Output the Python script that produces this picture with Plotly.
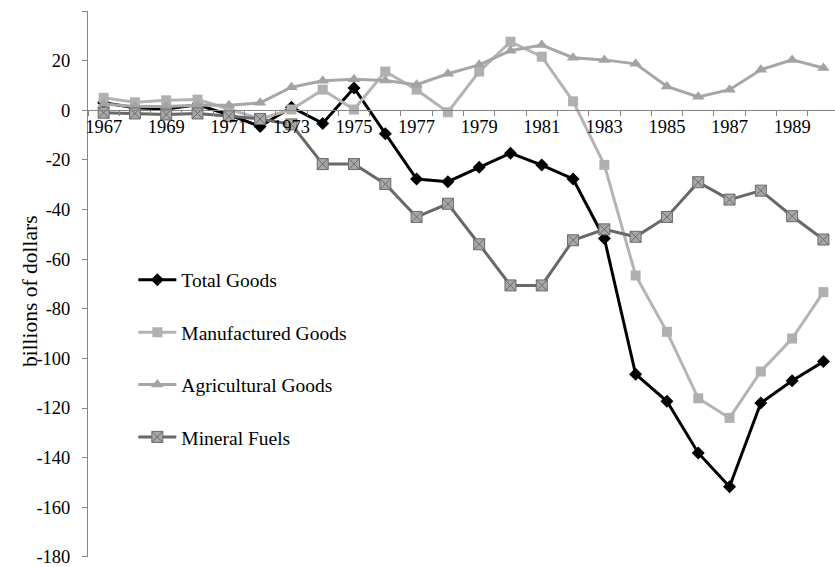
import plotly.graph_objects as go

years = [str(y) for y in range(1967, 1991)]

total_goods = [3.0, 1.0, 0.5, 2.2, -1.8, -6.5, 1.2, -5.3, 9.0, -9.5, -27.7, -28.8,
               -23.0, -17.3, -22.1, -27.7, -51.7, -106.4, -117.3, -138.1, -151.7,
               -118.0, -109.0, -101.3]
manufactured = [5.0, 3.2, 4.0, 4.3, 0.5, -3.5, 0.3, 8.3, 0.3, 15.6, 8.3, -0.8,
                15.6, 27.6, 21.6, 3.6, -22.0, -66.6, -89.3, -116.1, -124.0,
                -105.3, -92.0, -73.3]
agricultural = [2.5, 1.5, 1.5, 2.0, 2.0, 3.0, 9.3, 11.9, 12.5, 12.0, 10.3, 14.7,
                18.3, 24.0, 26.3, 21.2, 20.3, 18.7, 9.6, 5.4, 8.3, 16.3, 20.3, 17.0]
mineral = [-1.0, -1.3, -1.7, -1.3, -2.4, -3.5, -5.7, -21.7, -21.7, -29.7, -43.0,
           -37.7, -54.0, -70.6, -70.6, -52.4, -48.0, -51.0, -43.0, -29.0, -36.0,
           -32.4, -42.7, -52.1]

y_ticks = list(range(-180, 41, 20))
y_ticktext = ["" if v == 40 else str(v) for v in y_ticks]
x_ticktext = [y if int(y) % 2 == 1 else "" for y in years]

FONT = "Liberation Serif, Times New Roman, serif"

fig = go.Figure()
fig.add_trace(go.Scatter(
    x=years, y=total_goods, name="Total Goods", mode="lines+markers",
    line=dict(color="#000000", width=3),
    marker=dict(symbol="diamond", size=10, color="#000000"),
    legendgroup="a"))
fig.add_trace(go.Scatter(
    x=years, y=manufactured, name="Manufactured Goods", mode="lines+markers",
    line=dict(color="#b4b4b4", width=3),
    marker=dict(symbol="square", size=10, color="#b0b0b0"),
    legendgroup="b"))
fig.add_trace(go.Scatter(
    x=years, y=agricultural, name="Agricultural Goods", mode="lines+markers",
    line=dict(color="#a6a6a6", width=3),
    marker=dict(symbol="triangle-up", size=11, color="#a3a3a3"),
    legendgroup="c"))
fig.add_trace(go.Scatter(
    x=years, y=mineral, name="Mineral Fuels", mode="lines+markers",
    line=dict(color="#686868", width=3),
    marker=dict(symbol="square-x", size=11, color="#a8a8a8",
                line=dict(color="#6a6a6a", width=1)),
    legendgroup="d"))

fig.update_layout(
    width=835, height=567,
    margin=dict(l=88, r=0, t=11, b=8),
    paper_bgcolor="white", plot_bgcolor="white",
    font=dict(family=FONT, size=18, color="#000000"),
    showlegend=True,
    legend=dict(x=0.0607, y=0.5427, xanchor="left", yanchor="top",
                traceorder="grouped", tracegroupgap=24,
                font=dict(family=FONT, size=19.5, color="#000000"),
                bgcolor="rgba(0,0,0,0)", itemwidth=38),
    xaxis=dict(type="category", range=[-0.5, 23.37],
               tickmode="array", tickvals=years, ticktext=x_ticktext,
               tickson="boundaries", ticks="outside", ticklen=5, tickangle=0,
               tickcolor="#868686", showline=True, linecolor="#868686",
               linewidth=1, showgrid=False, zeroline=False,
               anchor="free", position=180/220,
               tickfont=dict(family=FONT, size=18.5, color="#000000")),
    yaxis=dict(range=[-180.05, 40.0], tickmode="array", tickvals=y_ticks,
               ticktext=y_ticktext, ticks="outside", ticklen=5,
               tickcolor="#868686", showline=True, linecolor="#868686",
               linewidth=1, showgrid=False, zeroline=False,
               ticklabelstandoff=8, ticklabeloverflow="allow",
               tickfont=dict(family=FONT, size=18.5, color="#000000")),
    annotations=[dict(text="billions of dollars", xref="paper", yref="paper",
                      x=(30 - 88) / 747, y=0.487, xanchor="center",
                      yanchor="middle", textangle=-90, showarrow=False,
                      font=dict(family=FONT, size=21.5, color="#000000"))],
)

fig.write_html("out.html",
               config={"displayModeBar": False},
               post_script="document.body.style.margin='0px';"
                           "document.body.style.overflow='hidden';")
